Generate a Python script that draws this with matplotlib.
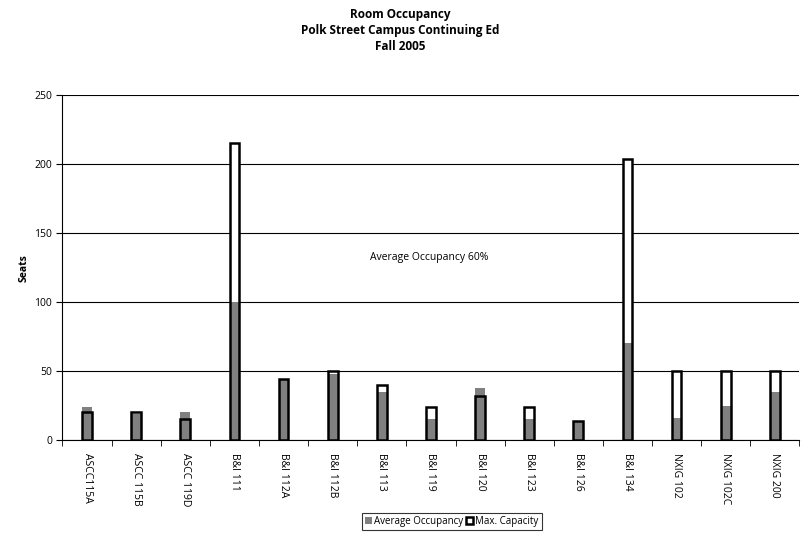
import matplotlib.pyplot as plt
import numpy as np

rooms = ['ASCC115A', 'ASCC 115B', 'ASCC 119D', 'B&I 111', 'B&I 112A', 'B&I 112B',
         'B&I 113', 'B&I 119', 'B&I 120', 'B&I 123', 'B&I 126', 'B&I 134',
         'NXIG 102', 'NXIG 102C', 'NXIG 200']
avg_occupancy = [24, 19, 20, 100, 44, 48, 35, 15, 38, 15, 13, 70, 16, 25, 35]
max_capacity = [20, 20, 15, 215, 44, 50, 40, 24, 32, 24, 14, 204, 50, 50, 50]

plt.rcParams['font.family'] = ['Open Sans', 'DejaVu Sans']

fig = plt.figure(figsize=(8.01, 5.4), dpi=100)
ax = fig.add_axes([0.078, 0.185, 0.920, 0.639])

x = np.arange(len(rooms))
w = 0.2

# capacity fill first, then occupancy, then capacity outline on top
ax.bar(x, max_capacity, w, color='white', edgecolor='none', zorder=2)
ax.bar(x, avg_occupancy, w, color='#808080', edgecolor='none', zorder=3,
       label='Average Occupancy')
ax.bar(x, max_capacity, w, facecolor='none', edgecolor='black', linewidth=1.8,
       zorder=4)
ax.bar([np.nan], [np.nan], color='white', edgecolor='black', linewidth=1.8,
       label='Max. Capacity')

ax.set_xlim(-0.5, len(rooms) - 0.5)
ax.set_ylim(0, 250)
ax.set_yticks(range(0, 251, 50))
ax.yaxis.grid(True, color='black', linewidth=0.8)
ax.set_axisbelow(True)

ax.set_xticks(x)
ax.set_xticklabels(rooms, rotation=-90, fontsize=7.5)
ax.set_xticks(np.arange(-0.5, len(rooms)), minor=True)
ax.tick_params(axis='x', which='major', length=0, pad=9)
ax.tick_params(axis='x', which='minor', length=4, direction='out')
ax.tick_params(axis='y', labelsize=7.5, length=4, direction='out')

for s in ['top', 'right']:
    ax.spines[s].set_visible(False)

ax.set_ylabel('Seats', fontsize=7.5, fontweight='bold', labelpad=3)

ax.text(5.76, 132, 'Average Occupancy 60%', fontsize=7.5, va='center', ha='left')

fig.text(0.5, 0.986, 'Room Occupancy\nPolk Street Campus Continuing Ed\nFall 2005',
         fontsize=8.5, fontweight='bold', ha='center', va='top', linespacing=1.33)

leg = fig.legend(loc='center', bbox_to_anchor=(0.564, 0.034), ncol=2, fontsize=7,
                 frameon=True, fancybox=False, edgecolor='black', handlelength=0.7,
                 handleheight=0.7, handletextpad=0.25, columnspacing=0.3,
                 borderpad=0.3)
leg.get_frame().set_linewidth(0.8)

fig.savefig('out.png', dpi=100)
